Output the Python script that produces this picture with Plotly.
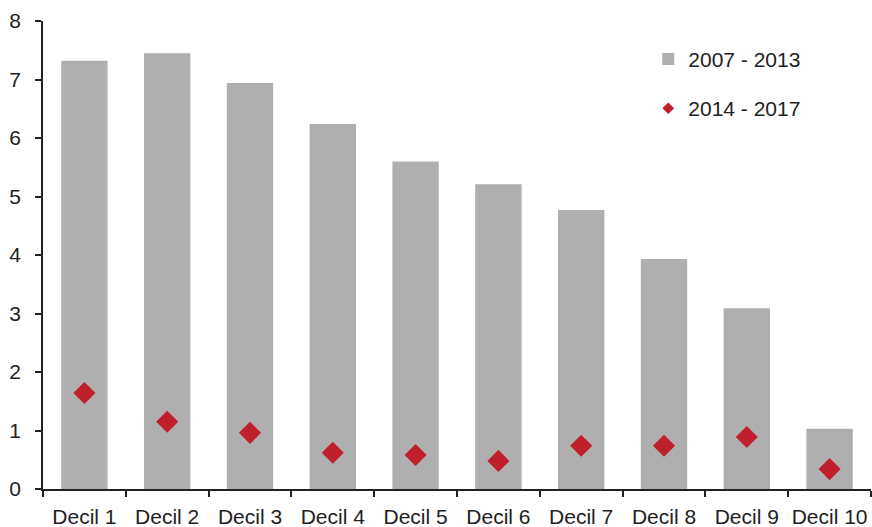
import plotly.graph_objects as go

categories = ["Decil 1", "Decil 2", "Decil 3", "Decil 4", "Decil 5",
              "Decil 6", "Decil 7", "Decil 8", "Decil 9", "Decil 10"]
series_2007_2013 = [7.32, 7.45, 6.94, 6.24, 5.60, 5.21, 4.77, 3.93, 3.09, 1.03]
series_2014_2017 = [1.64, 1.15, 0.96, 0.62, 0.58, 0.48, 0.74, 0.74, 0.89, 0.34]
y_ticks = [0, 1, 2, 3, 4, 5, 6, 7, 8]

BAR_COLOR = "#afafaf"
DIAMOND_COLOR = "#c0202b"

fig = go.Figure()
fig.add_trace(go.Bar(
    x=categories, y=series_2007_2013, name="2007 - 2013",
    marker=dict(color=BAR_COLOR, line=dict(width=0)),
    width=0.56, legendgroup="a",
))
fig.add_trace(go.Scatter(
    x=categories, y=series_2014_2017, name="2014 - 2017", mode="markers",
    marker=dict(symbol="diamond", size=17, color=DIAMOND_COLOR),
    legendgroup="b", showlegend=False,
))
# legend entry with a small diamond, as in the original
fig.add_trace(go.Scatter(
    x=[categories[0]], y=[None], name="2014 - 2017", mode="markers",
    marker=dict(symbol="diamond", size=9, color=DIAMOND_COLOR),
    legendgroup="b", showlegend=True,
))

fig.update_layout(
    width=872, height=527,
    margin=dict(l=43, r=1, t=21, b=38),
    paper_bgcolor="white", plot_bgcolor="white",
    font=dict(family="Liberation Sans, Arial, sans-serif", size=21, color="#222222"),
    showlegend=True,
    legend=dict(x=0.731, y=0.962, xanchor="left", yanchor="top",
                font=dict(size=21, color="#222222"),
                tracegroupgap=19, itemwidth=30, bgcolor="rgba(0,0,0,0)"),
)
fig.update_xaxes(
    categoryorder="array", categoryarray=categories,
    range=[-0.5, len(categories) - 0.5],
    showline=True, linecolor="#222222", linewidth=1.5,
    ticks="outside", ticklen=6, tickcolor="#222222", tickwidth=1.5,
    tickson="boundaries", showgrid=False, automargin=False, tickangle=0,
    tickfont=dict(size=21, color="#222222"), ticklabelstandoff=8,
)
fig.update_yaxes(
    range=[0, 8], tickvals=y_ticks,
    showline=True, linecolor="#222222", linewidth=1.5,
    ticks="outside", ticklen=6, tickcolor="#222222", tickwidth=1.5,
    showgrid=False, zeroline=False, automargin=False,
    tickfont=dict(size=21, color="#222222"), ticklabelstandoff=10,
)

fig.write_html("out.html", post_script="document.body.style.margin='0';",
               config={"displayModeBar": False})
